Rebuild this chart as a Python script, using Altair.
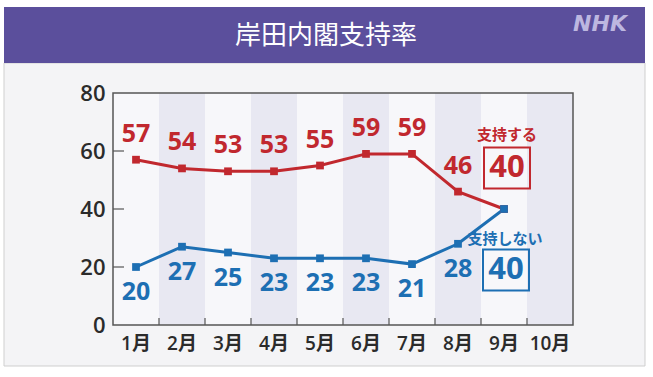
import altair as alt
import pandas as pd

months = ["1月", "2月", "3月", "4月", "5月", "6月", "7月", "8月", "9月", "10月"]
data_months = months[:9]
support = [57, 54, 53, 53, 55, 59, 59, 46, 40]
nonsupport = [20, 27, 25, 23, 23, 23, 21, 28, 40]
y_ticks = [20, 40, 60]

RED = "#c1282e"
BLUE = "#1d6fb3"
FONT = "Noto Sans CJK JP"
NUMFONT = "Open Sans, Noto Sans CJK JP"

df = pd.DataFrame({"month": data_months, "support": support, "nonsupport": nonsupport})
df_lab = df.iloc[:-1]
df_last = df.iloc[-1:]
bands = pd.DataFrame({"month": months,
                      "shade": ["#f7f7fa" if i % 2 == 0 else "#e8e8f2" for i in range(len(months))]})
ticks_x = pd.DataFrame({"month": months[1:]})
ticks_y = pd.DataFrame({"v": y_ticks})
one = pd.DataFrame({"a": [0]})

xscale = alt.Scale(type="band", domain=months, paddingInner=0, paddingOuter=0)
yscale = alt.Scale(domain=[0, 80], nice=False)

X = alt.X("month:N", scale=xscale, sort=months,
          axis=alt.Axis(title=None, labelAngle=0, labelFontSize=19, labelColor="#2b2b2b",
                        labelFont=NUMFONT, labelFontWeight=600, labelPadding=9,
                        ticks=False, domain=False, zindex=1))

panel = alt.Chart(one).mark_rect(fill="#f4f4f6", stroke="#cfcfcf", strokeWidth=1).encode(
    x=alt.value(-109), x2=alt.value(532), y=alt.value(-30), y2=alt.value(273))
header = alt.Chart(one).mark_rect(fill="#5b4f9c").encode(
    x=alt.value(-109), x2=alt.value(532), y=alt.value(-86), y2=alt.value(-30))
title = alt.Chart(one).mark_text(font=FONT, fontSize=26, color="white", fontWeight=400,
                                 baseline="middle", align="center").encode(
    x=alt.value(213), y=alt.value(-57), text=alt.value("岸田内閣支持率"))
logo = alt.Chart(one).mark_text(font="DejaVu Sans", fontSize=22, color="#bdb7e0", fontWeight="bold",
                                fontStyle="italic", baseline="middle", align="center").encode(
    x=alt.value(487), y=alt.value(-69), text=alt.value("NHK"))

band_layer = alt.Chart(bands).mark_rect().encode(
    x=X, color=alt.Color("shade:N", scale=None))

ytick_layer = alt.Chart(ticks_y).mark_rule(color="#555", strokeWidth=1.2).encode(
    y=alt.Y("v:Q", scale=yscale), x=alt.value(0), x2=alt.value(11))
xtick_layer = alt.Chart(ticks_x).mark_rule(color="#555", strokeWidth=1.2).encode(
    x=alt.X("month:N", scale=xscale, bandPosition=0), y=alt.value(225), y2=alt.value(232))
frame = alt.Chart(one).mark_rect(fillOpacity=0, stroke="#555555", strokeWidth=1.5).encode(
    x=alt.value(0), x2=alt.value(460), y=alt.value(0), y2=alt.value(232))

Yaxis = alt.Axis(title=None, values=[0, 20, 40, 60, 80], labelFontSize=22, labelColor="#2b2b2b",
                 labelFont=NUMFONT, labelFontWeight=600, labelPadding=8, ticks=False, grid=False,
                 domain=False, zindex=1)

red_line = alt.Chart(df).mark_line(color=RED, strokeWidth=3).encode(
    x=X, y=alt.Y("support:Q", scale=yscale, axis=Yaxis))
blue_line = alt.Chart(df).mark_line(color=BLUE, strokeWidth=3).encode(
    x=X, y=alt.Y("nonsupport:Q", scale=yscale))
red_pts = alt.Chart(df).mark_point(shape="square", filled=True, size=60, color=RED, opacity=1).encode(
    x=X, y=alt.Y("support:Q", scale=yscale))
blue_pts = alt.Chart(df).mark_point(shape="square", filled=True, size=60, color=BLUE, opacity=1).encode(
    x=X, y=alt.Y("nonsupport:Q", scale=yscale))

red_lab = alt.Chart(df_lab).mark_text(font=NUMFONT, fontSize=25, fontWeight="bold", color=RED,
                                      dy=-26, baseline="middle").encode(
    x=X, y=alt.Y("support:Q", scale=yscale), text="support:Q")
blue_lab = alt.Chart(df_lab).mark_text(font=NUMFONT, fontSize=25, fontWeight="bold", color=BLUE,
                                       dy=25, baseline="middle").encode(
    x=X, y=alt.Y("nonsupport:Q", scale=yscale), text="nonsupport:Q")

box_shape = "M-1,-0.89L1,-0.89L1,0.89L-1,0.89Z"
red_box = alt.Chart(df_last).mark_point(shape=box_shape, size=2116, filled=False, color=RED,
                                        strokeWidth=2, opacity=1, xOffset=3, yOffset=-41).encode(
    x=X, y=alt.Y("support:Q", scale=yscale))
blue_box = alt.Chart(df_last).mark_point(shape=box_shape, size=2116, filled=False, color=BLUE,
                                         strokeWidth=2, opacity=1, xOffset=2, yOffset=61).encode(
    x=X, y=alt.Y("nonsupport:Q", scale=yscale))
red_big = alt.Chart(df_last).mark_text(font=NUMFONT, fontSize=31, fontWeight="bold", color=RED,
                                       dx=3, dy=-41, baseline="middle").encode(
    x=X, y=alt.Y("support:Q", scale=yscale), text="support:Q")
blue_big = alt.Chart(df_last).mark_text(font=NUMFONT, fontSize=31, fontWeight="bold", color=BLUE,
                                        dx=2, dy=61, baseline="middle").encode(
    x=X, y=alt.Y("nonsupport:Q", scale=yscale), text="nonsupport:Q")
red_name = alt.Chart(df_last).mark_text(font=FONT, fontSize=15, fontWeight="bold", color=RED,
                                        dx=3, dy=-74, baseline="middle").encode(
    x=X, y=alt.Y("support:Q", scale=yscale), text=alt.value("支持する"))
blue_name = alt.Chart(df_last).mark_text(font=FONT, fontSize=15, fontWeight="bold", color=BLUE,
                                         dx=1, dy=30, baseline="middle").encode(
    x=X, y=alt.Y("nonsupport:Q", scale=yscale), text=alt.value("支持しない"))

chart = alt.layer(
    panel, header, title, logo, band_layer, ytick_layer, xtick_layer, frame,
    red_line, blue_line, red_pts, blue_pts, red_lab, blue_lab,
    red_box, blue_box, red_big, blue_big, red_name, blue_name
).properties(
    width=460, height=232,
    autosize=alt.AutoSizeParams(type="none"),
    padding={"left": 113, "top": 93, "right": 80, "bottom": 52},
    background="white"
).configure_view(stroke=None)

chart.save("out.html", embed_options={"renderer": "svg", "actions": False})
